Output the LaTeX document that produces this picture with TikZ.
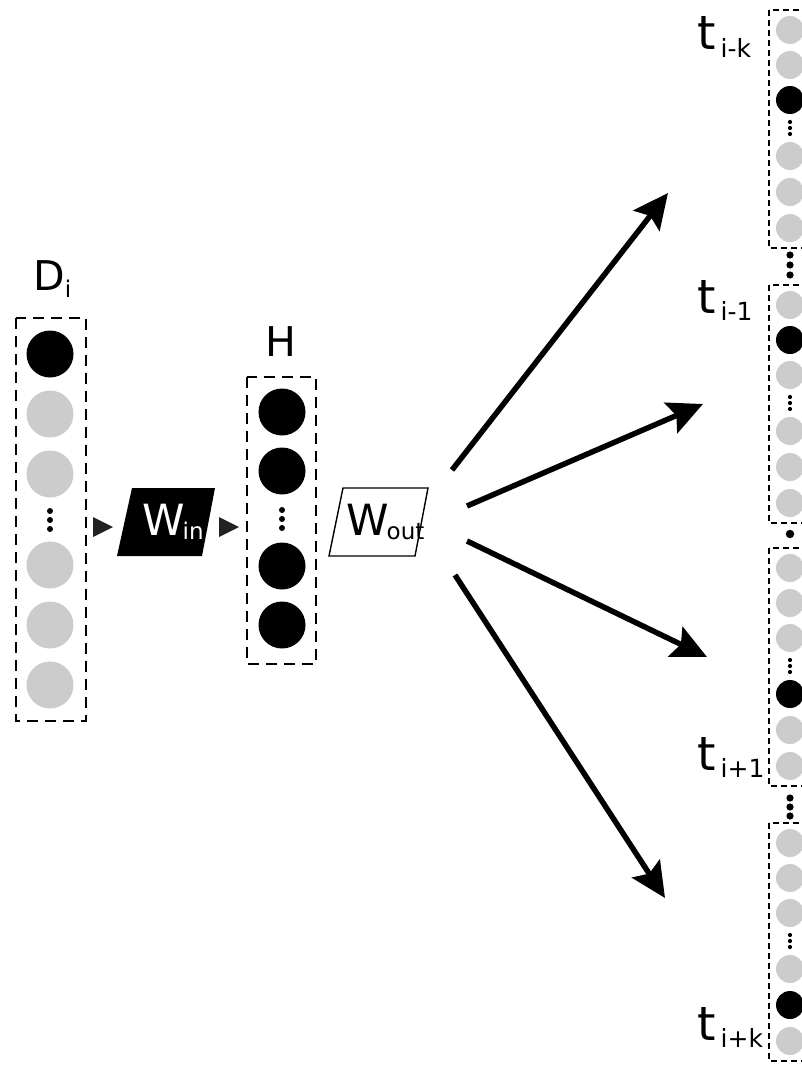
\documentclass[tikz,border=0pt]{standalone}
\usepackage{fontspec}
\setmainfont{DejaVu Sans}
\usetikzlibrary{arrows.meta}
\definecolor{unitgray}{HTML}{CCCCCC}
\definecolor{tipgray}{HTML}{222222}
\newcommand{\biglbl}[2]{{\fontsize{41}{41}\selectfont #1}\raisebox{-7pt}{\fontsize{23}{23}\selectfont #2}}
\newcommand{\wlbl}[2]{{\fontsize{43}{43}\selectfont #1}\hspace{-2pt}\raisebox{-4pt}{\fontsize{23}{23}\selectfont #2}}
\newcommand{\tlbl}[1]{{\fontsize{47}{47}\selectfont t}\hspace{5pt}\raisebox{-7pt}{\fontsize{25}{25}\selectfont #1}}
\tikzset{
  bigbox/.style={dash pattern=on 11pt off 7pt,line width=2.9pt},
  smallbox/.style={dash pattern=on 6pt off 4pt,line width=1.4pt},
  label/.style={inner sep=0pt},
  flow/.style={->,line width=5.5pt}
}
\begin{document}
\begin{tikzpicture}[x=1pt,y=-1pt,>={Stealth[length=35pt,width=33pt,inset=6pt]}]
		\useasboundingbox (0,0) rectangle (802,1065);
		\clip (0,0) rectangle (802,1065);
		% input layer D_i
		\draw[bigbox] (16,318) rectangle (86,721);
		\foreach \y/\c in {354/black,414/unitgray,474/unitgray,565/unitgray,625/unitgray,685/unitgray}
			\fill[\c] (50,\y) circle (23.5);
		\foreach \y in {511,520,529} \fill (50,\y) circle (3);
		\node[label,anchor=base west] (Di) at (33,290) {\biglbl{D}{i}};
		% hidden layer H
		\draw[bigbox] (247,377) rectangle (316,664);
		\foreach \y in {412,471,566,625} \fill (282,\y) circle (23.5);
		\foreach \y in {510,519,528} \fill (282,\y) circle (3);
		\node[label,anchor=base] (H) at (281,356) {\fontsize{41}{41}\selectfont H};
		% weights
		\fill[tipgray] (93,517) -- (113,527) -- (93,537) -- cycle;
		\fill[tipgray] (219,517) -- (239,527) -- (219,537) -- cycle;
		\fill (132,488) -- (215,488) -- (202,556) -- (117,556) -- cycle;
		\node[label,anchor=base west,text=white] (Win) at (142,535) {\wlbl{W}{in}};
		\draw[line width=1.4pt] (343,488) -- (428,488) -- (415,556) -- (329,556) -- cycle;
		\node[label,anchor=base west] (Wout) at (346,535) {\wlbl{W}{out}};
		% context outputs
		\foreach \top/\k in {10/3,285/2,548/4,823/5} {
			\draw[smallbox] (769,\top) rectangle (811,\top+238);
			\foreach \dy [count=\i] in {20,55,90,146,182,218} {
				\ifnum\i=\k \fill (790,\top+\dy) circle (14); \else \fill[unitgray] (790,\top+\dy) circle (14); \fi
			}
			\foreach \dy in {112,118,124} \fill (790,\top+\dy) circle (2.1);
		}
		\foreach \y in {255,265,275,798,807,816} \fill (790,\y) circle (3.6);
		\fill (790,534) circle (4.2);
		\node[label,anchor=base west] (tik) at (697,50) {\tlbl{i-k}};
		\node[label,anchor=base west] (tim) at (697,313) {\tlbl{i-1}};
		\node[label,anchor=base west] (tip) at (697,770) {\tlbl{i+1}};
		\node[label,anchor=base west] (tiK) at (697,1040) {\tlbl{i+k}};
		% arrows
		\coordinate (s1) at (452,470); \coordinate (e1) at (668,193);
		\coordinate (s2) at (467,506); \coordinate (e2) at (703,404);
		\coordinate (s3) at (467,541); \coordinate (e3) at (707,657);
		\coordinate (s4) at (455,575); \coordinate (e4) at (665,898);
		\draw[flow] (s1) -- (e1);
		\draw[flow] (s2) -- (e2);
		\draw[flow] (s3) -- (e3);
		\draw[flow] (s4) -- (e4);
\end{tikzpicture}
\end{document}
